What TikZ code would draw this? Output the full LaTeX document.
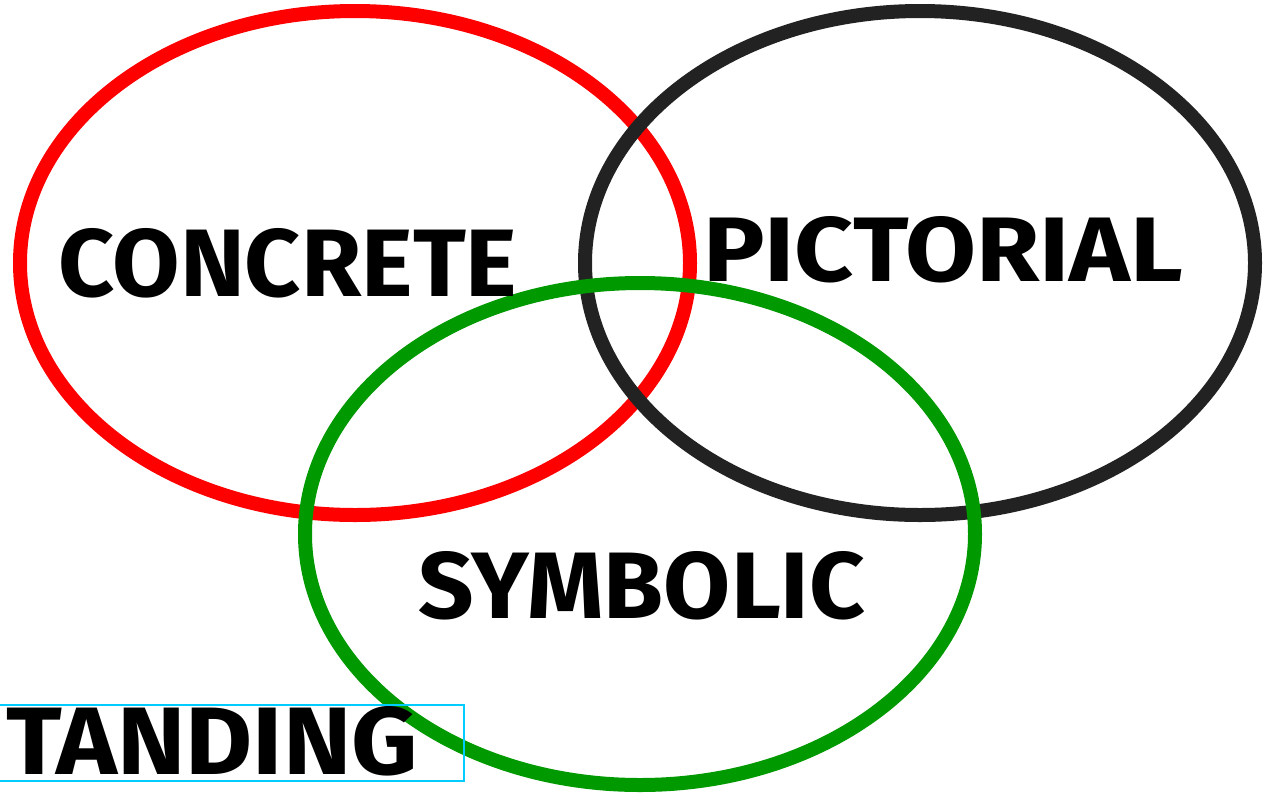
\documentclass[tikz,border=0pt]{standalone}
\usepackage{fontspec}
\usepackage{graphicx}
\setmainfont{Fira Sans}
\definecolor{cred}{RGB}{255,0,0}
\definecolor{cblack}{RGB}{34,34,34}
\definecolor{cgreen}{RGB}{0,153,0}
\definecolor{ccyan}{RGB}{0,204,255}
\tikzset{
  ring/.style={line width=14pt},
  word/.style={anchor=south west, inner sep=0pt, outer sep=0pt, text=black, font=\bfseries}
}
\begin{document}
\begin{tikzpicture}[x=1pt,y=-1pt]
\useasboundingbox[fill=white] (0,0) rectangle (1264,796);
\draw[ring, cred] (355,263) ellipse [x radius=335pt, y radius=252pt];
\draw[ring, cblack] (920,263) ellipse [x radius=335pt, y radius=252pt];
\draw[ring, cgreen] (640,534) ellipse [x radius=335pt, y radius=251pt];
\node[word] (concrete) at (58,298) {\resizebox{459pt}{68pt}{CONCRETE}};
\node[word] (pictorial) at (703,283) {\resizebox{480pt}{65pt}{PICTORIAL}};
\node[word] (symbolic) at (418,620) {\resizebox{447pt}{67pt}{SYMBOLIC}};
\node[word] (tanding) at (6,776) {\resizebox{412pt}{68pt}{TANDING}};
\draw[ccyan, line width=2pt] (0,705) -| (464,781) -- (0,781);
\end{tikzpicture}
\end{document}
